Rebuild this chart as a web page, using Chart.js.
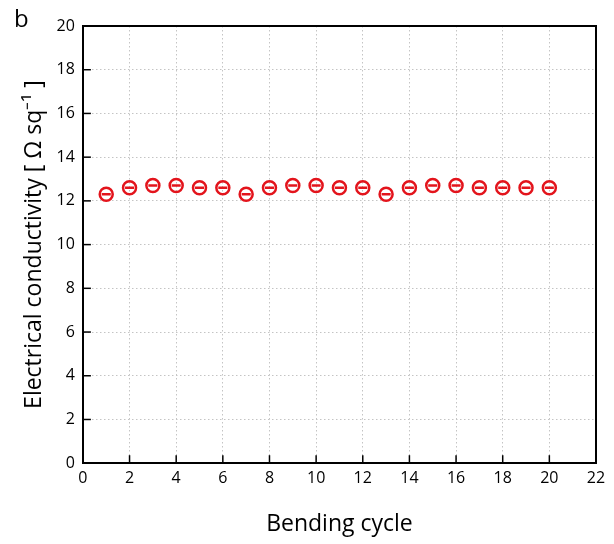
<!DOCTYPE html>
<html>
<head>
<meta charset="utf-8">
<script src="https://cdn.jsdelivr.net/npm/chart.js@4"></script>
<style>
  html, body { margin: 0; padding: 0; background: #fff; }
  #wrap { width: 614px; height: 544px; }
</style>
</head>
<body>
<div id="wrap"><canvas id="bendChart" width="614" height="544"></canvas></div>
<script>
// data
const cycles = [1, 2, 3, 4, 5, 6, 7, 8, 9, 10, 11, 12, 13, 14, 15, 16, 17, 18, 19, 20];
const conductivity = [12.3, 12.6, 12.7, 12.7, 12.6, 12.6, 12.3, 12.6, 12.7, 12.7,
                      12.6, 12.6, 12.3, 12.6, 12.7, 12.7, 12.6, 12.6, 12.6, 12.6];
const xTicks = [0, 2, 4, 6, 8, 10, 12, 14, 16, 18, 20, 22];
const yTicks = [0, 2, 4, 6, 8, 10, 12, 14, 16, 18, 20];

const red = '#e3141c';
const font = '"Open Sans", "Liberation Sans", sans-serif';
const pts = cycles.map((c, i) => ({ x: c, y: conductivity[i] }));

// short black ticks pointing into the plot, box top/right, and the panel letter
const frameAndTicks = {
  id: 'frameAndTicks',
  afterDraw(chart) {
    const { ctx, chartArea: a, scales: { x, y } } = chart;
    ctx.save();
    ctx.strokeStyle = '#000';
    ctx.lineWidth = 1.5;
    xTicks.forEach(v => {
      if (v === 0 || v === 22) return;
      const px = x.getPixelForValue(v);
      ctx.beginPath(); ctx.moveTo(px, a.bottom); ctx.lineTo(px, a.bottom - 8); ctx.stroke();
    });
    yTicks.forEach(v => {
      if (v === 0 || v === 20) return;
      const py = y.getPixelForValue(v);
      ctx.beginPath(); ctx.moveTo(a.left, py); ctx.lineTo(a.left + 8, py); ctx.stroke();
    });
    ctx.lineWidth = 2;
    ctx.beginPath();
    ctx.moveTo(a.left, a.top); ctx.lineTo(a.right, a.top); ctx.lineTo(a.right, a.bottom);
    ctx.stroke();
    ctx.fillStyle = '#000';
    ctx.font = '24px ' + font;
    ctx.fillText('b', 14, 27);
    ctx.restore();
  }
};

new Chart(document.getElementById('bendChart'), {
  type: 'scatter',
  data: {
    datasets: [{
      data: pts,
      pointStyle: 'circle',
      pointRadius: 6.5,
      pointBorderWidth: 2.5,
      pointBorderColor: red,
      pointBackgroundColor: 'rgba(0,0,0,0)'
    }, {
      data: pts,
      pointStyle: 'line',
      pointRadius: 4.5,
      pointBorderWidth: 2.5,
      pointBorderColor: red
    }]
  },
  options: {
    responsive: false,
    animation: false,
    events: [],
    layout: { padding: { top: 26, right: 18, bottom: 6, left: 21 } },
    plugins: { legend: { display: false }, tooltip: { enabled: false } },
    scales: {
      x: {
        type: 'linear', min: 0, max: 22,
        afterBuildTicks: s => { s.ticks = xTicks.map(v => ({ value: v })); },
        grid: { color: '#c4c4c4', lineWidth: 1, drawTicks: false },
        border: { color: '#000', width: 2, dash: [1.5, 2.5] },
        ticks: { color: '#000', font: { family: font, size: 16 }, padding: 6, maxRotation: 0 },
        title: { display: true, text: 'Bending cycle', color: '#000',
                 font: { family: font, size: 23 }, padding: { top: 16, bottom: 0 } }
      },
      y: {
        min: 0, max: 20,
        afterBuildTicks: s => { s.ticks = yTicks.map(v => ({ value: v })); },
        grid: { color: '#c4c4c4', lineWidth: 1, drawTicks: false },
        border: { color: '#000', width: 2, dash: [1.5, 2.5] },
        ticks: { color: '#000', font: { family: font, size: 16 }, padding: 8 },
        title: { display: true, text: 'Electrical conductivity [ Ω sq⁻¹ ]', color: '#000',
                 font: { family: font, size: 23 }, padding: { top: 0, bottom: 0 } }
      }
    }
  },
  plugins: [frameAndTicks]
});
</script>
</body>
</html>
